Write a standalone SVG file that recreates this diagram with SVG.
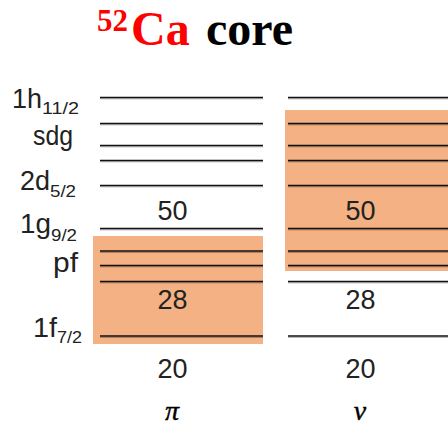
<svg xmlns="http://www.w3.org/2000/svg" width="448" height="426" viewBox="0 0 448 426">
  <style>
    .lvl { stroke: #111; stroke-width: 1.4; }
    .lvl-sh { stroke: #000; stroke-opacity: 0.35; stroke-width: 1; }
    .occ { fill: #F4B183; }
    .lab { font-family: "Liberation Sans", Arial, sans-serif; font-size: 27px; fill: #222; }
    .sub { font-family: "Liberation Sans", Arial, sans-serif; font-size: 16px; fill: #222; }
    .magic { font-family: "Liberation Sans", Arial, sans-serif; font-size: 27px; fill: #222; text-anchor: middle; }
    .iso { font-family: "Liberation Serif", "Times New Roman", serif; font-style: italic; font-size: 28px; fill: #000; stroke: #000; stroke-width: 0.4; text-anchor: middle; }
    .title { font-family: "Liberation Serif", "Times New Roman", serif; font-weight: bold; }
  </style>

  <!-- title -->
  <g id="title">
    <text class="title" x="97" y="31" font-size="31" fill="#FF0000">52</text>
    <text class="title" x="131" y="45" font-size="48" fill="#FF0000">Ca</text>
    <text class="title" x="206" y="45" font-size="48" fill="#000">core</text>
  </g>

  <!-- orbital labels -->
  <g id="orbital-labels">
    <text class="lab" x="12" y="108" textLength="30" lengthAdjust="spacingAndGlyphs">1h</text>
    <text class="sub" x="42" y="114" textLength="37" lengthAdjust="spacingAndGlyphs">11/2</text>
    <text class="lab" x="33" y="145" textLength="40" lengthAdjust="spacingAndGlyphs">sdg</text>
    <text class="lab" x="20" y="190" textLength="30" lengthAdjust="spacingAndGlyphs">2d</text>
    <text class="sub" x="50" y="197" textLength="26" lengthAdjust="spacingAndGlyphs">5/2</text>
    <text class="lab" x="20" y="233" textLength="31" lengthAdjust="spacingAndGlyphs">1g</text>
    <text class="sub" x="51" y="241" textLength="26" lengthAdjust="spacingAndGlyphs">9/2</text>
    <text class="lab" x="53" y="272" textLength="25" lengthAdjust="spacingAndGlyphs">pf</text>
    <text class="lab" x="33" y="337" textLength="24" lengthAdjust="spacingAndGlyphs">1f</text>
    <text class="sub" x="57" y="343" textLength="25" lengthAdjust="spacingAndGlyphs">7/2</text>
  </g>

  <!-- proton column -->
  <g id="proton">
    <rect class="occ" x="93" y="236" width="170" height="108"/>
    <g class="lvl-sh">
      <line x1="100" y1="98.8" x2="263" y2="98.8"/>
      <line x1="100" y1="124.8" x2="263" y2="124.8"/>
      <line x1="100" y1="146.8" x2="263" y2="146.8"/>
      <line x1="100" y1="161.8" x2="263" y2="161.8"/>
      <line x1="100" y1="186.8" x2="263" y2="186.8"/>
      <line x1="100" y1="229.8" x2="263" y2="229.8"/>
      <line x1="100" y1="252.3" x2="263" y2="252.3"/>
      <line x1="100" y1="266.8" x2="263" y2="266.8"/>
      <line x1="100" y1="282.8" x2="263" y2="282.8"/>
      <line x1="100" y1="337.3" x2="263" y2="337.3"/>
    </g>
    <g class="lvl">
      <line x1="100" y1="97.5" x2="263" y2="97.5"/>
      <line x1="100" y1="123.5" x2="263" y2="123.5"/>
      <line x1="100" y1="145.5" x2="263" y2="145.5"/>
      <line x1="100" y1="160.5" x2="263" y2="160.5"/>
      <line x1="100" y1="185.5" x2="263" y2="185.5"/>
      <line x1="100" y1="228.5" x2="263" y2="228.5"/>
      <line x1="100" y1="251" x2="263" y2="251"/>
      <line x1="100" y1="265.5" x2="263" y2="265.5"/>
      <line x1="100" y1="281.5" x2="263" y2="281.5"/>
      <line x1="100" y1="336" x2="263" y2="336"/>
    </g>
    <text class="magic" x="172.5" y="220">50</text>
    <text class="magic" x="172.5" y="309">28</text>
    <text class="magic" x="172.5" y="378">20</text>
    <text class="iso" x="172" y="420">π</text>
  </g>

  <!-- neutron column -->
  <g id="neutron">
    <rect class="occ" x="285" y="110" width="163" height="161"/>
    <g class="lvl-sh">
      <line x1="288" y1="98.8" x2="448" y2="98.8"/>
      <line x1="288" y1="124.8" x2="448" y2="124.8"/>
      <line x1="288" y1="146.8" x2="448" y2="146.8"/>
      <line x1="288" y1="161.8" x2="448" y2="161.8"/>
      <line x1="288" y1="186.8" x2="448" y2="186.8"/>
      <line x1="288" y1="229.8" x2="448" y2="229.8"/>
      <line x1="288" y1="252.3" x2="448" y2="252.3"/>
      <line x1="288" y1="266.8" x2="448" y2="266.8"/>
      <line x1="288" y1="282.8" x2="448" y2="282.8"/>
      <line x1="288" y1="337.3" x2="448" y2="337.3"/>
    </g>
    <g class="lvl">
      <line x1="288" y1="97.5" x2="448" y2="97.5"/>
      <line x1="288" y1="123.5" x2="448" y2="123.5"/>
      <line x1="288" y1="145.5" x2="448" y2="145.5"/>
      <line x1="288" y1="160.5" x2="448" y2="160.5"/>
      <line x1="288" y1="185.5" x2="448" y2="185.5"/>
      <line x1="288" y1="228.5" x2="448" y2="228.5"/>
      <line x1="288" y1="251" x2="448" y2="251"/>
      <line x1="288" y1="265.5" x2="448" y2="265.5"/>
      <line x1="288" y1="281.5" x2="448" y2="281.5"/>
      <line x1="288" y1="336" x2="448" y2="336"/>
    </g>
    <text class="magic" x="360.5" y="220">50</text>
    <text class="magic" x="360.5" y="309">28</text>
    <text class="magic" x="360.5" y="378">20</text>
    <text class="iso" x="360" y="420">ν</text>
  </g>
</svg>
